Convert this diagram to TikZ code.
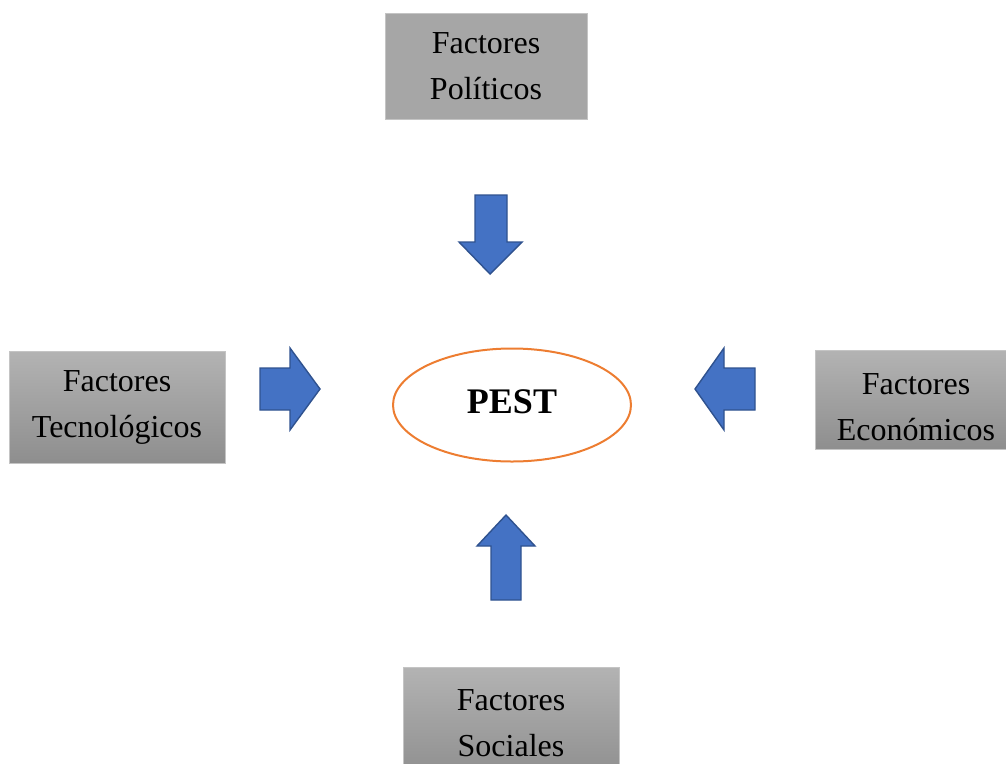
\documentclass[tikz,border=0pt]{standalone}
\usepackage{fontspec}
\setmainfont{Liberation Serif}
\usetikzlibrary{shapes.geometric}
\definecolor{boxgray}{HTML}{A6A6A6}
\definecolor{boxtop}{HTML}{B3B3B3}
\definecolor{boxbot}{HTML}{8E8E8E}
\definecolor{boxline}{HTML}{C4C4C4}
\definecolor{arrfill}{HTML}{4472C4}
\definecolor{arrline}{HTML}{2F528F}
\definecolor{ellline}{HTML}{ED7D31}
\tikzset{
  factbox/.style={draw=boxline, line width=1pt, inner sep=0pt, align=center,
    font=\fontsize{32}{46}\selectfont, text=black},
  flatbox/.style={factbox, fill=boxgray},
  gradbox/.style={factbox, top color=boxtop, bottom color=boxbot},
  boxtext/.style={inner sep=0pt, align=center, font=\fontsize{32}{46}\selectfont, text=black},
  blockarrow/.style={fill=arrfill, draw=arrline, line width=1.4pt, line join=miter},
}
\begin{document}
\begin{tikzpicture}[x=1pt,y=-1pt]
\useasboundingbox (0,0) rectangle (1006,763);
% boxes
\node[flatbox, minimum width=202pt, minimum height=106pt] (pol) at (486,66) {Factores\\Políticos};
\node[gradbox, minimum width=216pt, minimum height=112pt] (tec) at (117,407) {Factores\\Tecnológicos};
\begin{scope}
\clip (0,0) rectangle (1006,763);
\node[gradbox, minimum width=192pt, minimum height=99pt] (eco) at (911,400) {};
\node[boxtext] (ecotext) at (916,407) {Factores\\Económicos};
\node[gradbox, minimum width=216pt, minimum height=112pt] (soc) at (511,723) {Factores\\Sociales};
\end{scope}
% centre ellipse
\node[ellipse, draw=ellline, line width=2pt, minimum width=238pt, minimum height=113pt,
  font=\fontsize{36}{40}\selectfont\bfseries] (pest) at (512,405) {};
\node[inner sep=0pt, font=\fontsize{36}{40}\selectfont\bfseries] (pesttext) at (512,402) {PEST};
% block arrows
\draw[blockarrow] (475,195) -- (507,195) -- (507,242) -- (522,242) -- (490,274)
  -- (459,242) -- (475,242) -- cycle;
\draw[blockarrow] (260,368) -- (290,368) -- (290,348) -- (320,389) -- (290,430)
  -- (290,410) -- (260,410) -- cycle;
\draw[blockarrow] (755,368) -- (724,368) -- (724,348) -- (695,389) -- (724,430)
  -- (724,410) -- (755,410) -- cycle;
\draw[blockarrow] (491,600) -- (521,600) -- (521,546) -- (535,546) -- (506,515)
  -- (477,546) -- (491,546) -- cycle;
\end{tikzpicture}
\end{document}
